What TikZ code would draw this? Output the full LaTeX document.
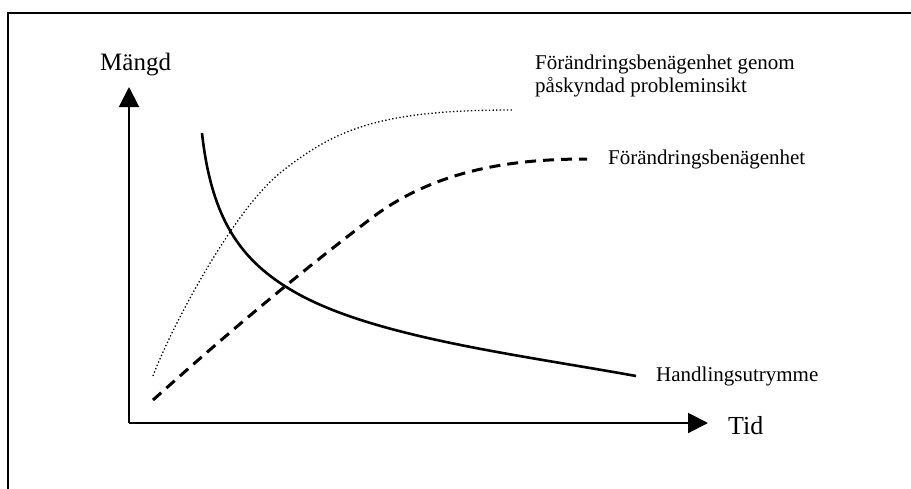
\documentclass[tikz,border=0pt]{standalone}
\usepackage{fontspec}
\setmainfont{Liberation Serif}
\usetikzlibrary{arrows.meta}
\begin{document}
\begin{tikzpicture}[x=1pt,y=-1pt,
  frameline/.style={line width=2.4pt},
  axisline/.style={line width=2pt,-{Triangle[length=20pt,width=20pt]}},
  handling/.style={line width=2.6pt},
  benagen/.style={line width=3pt,dash pattern=on 11pt off 7pt},
  paskynd/.style={line width=1.3pt,dash pattern=on 1.3pt off 2.3pt},
  biglabel/.style={inner sep=0pt,anchor=base west,font=\fontsize{25}{28}\selectfont},
  smalllabel/.style={inner sep=0pt,anchor=base west,font=\fontsize{21}{23}\selectfont,align=left}]
\useasboundingbox (0,0) rectangle (911,488);
\fill[white] (0,0) rectangle (911,488);

% surrounding frame (open to the right and bottom)
\draw[frameline] (8,495) -- (8,13) -- (920,13);

% axes
\coordinate (origin) at (129,423);
\coordinate (ytip) at (129,87);
\coordinate (xtip) at (708,423);
\draw[axisline] (origin) -- (ytip);
\draw[axisline] (origin) -- (xtip);

\node[biglabel] (mangd) at (100,70) {Mängd};
\node[biglabel,font=\fontsize{26}{28}\selectfont] (tid) at (728,434) {Tid};

% curves
\coordinate (p0) at (153,376);
\coordinate (p1) at (280,173);
\coordinate (p2) at (512,110);
\draw[paskynd] (p0) .. controls (170,330) and (232,212) .. (p1)
                    .. controls (335,129) and (380,110) .. (p2);

\coordinate (b0) at (153,400);
\coordinate (b1) at (373,217);
\coordinate (b2) at (587,159);
\draw[benagen] (b0) .. controls (220,340) and (290,280) .. (b1)
                    .. controls (440,167) and (520,159) .. (b2);

\coordinate (h0) at (202,133);
\coordinate (h1) at (300,295);
\coordinate (h2) at (636,376);
\draw[handling] (h0) .. controls (212,225) and (245,265) .. (h1)
                     .. controls (380,338) and (520,355) .. (h2);

% curve labels
\node[smalllabel] (lblpask) at (535,92) {Förändringsbenägenhet genom\\påskyndad probleminsikt};
\node[smalllabel] (lblben) at (608,164) {Förändringsbenägenhet};
\node[smalllabel] (lblhand) at (656,381) {Handlingsutrymme};
\end{tikzpicture}
\end{document}
